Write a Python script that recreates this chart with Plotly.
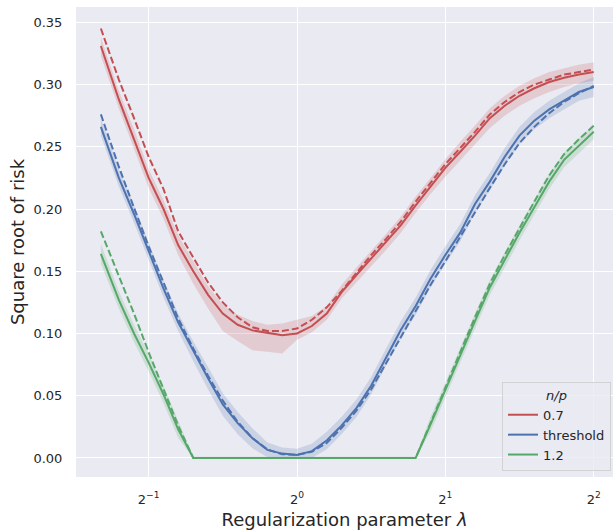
import plotly.graph_objects as go

# ---- data ----
lam = [0.400, 0.435, 0.467, 0.500, 0.536, 0.574, 0.616, 0.660, 0.707, 0.758,
       0.812, 0.871, 0.933, 1.000, 1.072, 1.149, 1.231, 1.320, 1.414, 1.516,
       1.625, 1.741, 1.866, 2.000, 2.144, 2.297, 2.462, 2.639, 2.828, 3.031,
       3.249, 3.482, 3.732, 4.000]

red_emp = [0.331, 0.288, 0.256, 0.225, 0.200, 0.171, 0.150, 0.131, 0.116, 0.107,
           0.1025, 0.1006, 0.0985, 0.100, 0.106, 0.116, 0.133, 0.147, 0.160, 0.173,
           0.187, 0.203, 0.218, 0.233, 0.246, 0.259, 0.273, 0.283, 0.291, 0.297,
           0.302, 0.3055, 0.308, 0.310]
red_th = [0.345, 0.304, 0.273, 0.242, 0.216, 0.182, 0.161, 0.141, 0.125, 0.113,
          0.105, 0.102, 0.102, 0.104, 0.111, 0.121, 0.134, 0.149, 0.163, 0.176,
          0.190, 0.206, 0.221, 0.236, 0.249, 0.262, 0.276, 0.286, 0.294, 0.300,
          0.304, 0.308, 0.310, 0.312]
red_lo = [0.323, 0.281, 0.249, 0.217, 0.192, 0.163, 0.140, 0.120, 0.102, 0.094,
          0.0865, 0.0853, 0.084, 0.095, 0.101, 0.111, 0.128, 0.141, 0.154, 0.167,
          0.181, 0.197, 0.212, 0.226, 0.239, 0.252, 0.265, 0.275, 0.283, 0.289,
          0.294, 0.298, 0.301, 0.303]
red_hi = [0.338, 0.295, 0.264, 0.232, 0.207, 0.179, 0.158, 0.138, 0.123, 0.115,
          0.110, 0.107, 0.108, 0.111, 0.114, 0.122, 0.139, 0.153, 0.166, 0.180,
          0.194, 0.210, 0.225, 0.240, 0.254, 0.267, 0.281, 0.291, 0.299, 0.305,
          0.310, 0.313, 0.316, 0.318]

blue_emp = [0.266, 0.225, 0.196, 0.167, 0.136, 0.109, 0.0856, 0.064, 0.043, 0.028,
            0.0158, 0.0065, 0.0035, 0.0024, 0.0055, 0.014, 0.026, 0.040, 0.058, 0.081,
            0.103, 0.122, 0.144, 0.163, 0.181, 0.204, 0.222, 0.242, 0.259, 0.271,
            0.280, 0.287, 0.294, 0.298]
blue_th = [0.276, 0.234, 0.201, 0.170, 0.141, 0.112, 0.088, 0.066, 0.046, 0.029,
           0.016, 0.0068, 0.003, 0.0025, 0.005, 0.012, 0.024, 0.038, 0.055, 0.076,
           0.098, 0.118, 0.139, 0.158, 0.178, 0.198, 0.217, 0.236, 0.253, 0.266,
           0.277, 0.286, 0.293, 0.299]
blue_err = [0.007, 0.007, 0.007, 0.007, 0.007, 0.007, 0.008, 0.009, 0.009, 0.009,
            0.008, 0.006, 0.005, 0.005, 0.006, 0.007, 0.007, 0.007, 0.007, 0.007,
            0.007, 0.007, 0.007, 0.007, 0.007, 0.007, 0.007, 0.007, 0.007, 0.007,
            0.007, 0.007, 0.007, 0.008]

green_emp = [0.164, 0.127, 0.100, 0.0766, 0.051, 0.023,
             0, 0, 0, 0, 0, 0, 0, 0, 0, 0, 0, 0, 0, 0, 0, 0,
             0.027, 0.055, 0.082, 0.110, 0.137, 0.159, 0.181, 0.2015, 0.222, 0.2395,
             0.251, 0.262]
green_th = [0.182, 0.147, 0.116, 0.085, 0.056, 0.026,
            0, 0, 0, 0, 0, 0, 0, 0, 0, 0, 0, 0, 0, 0, 0, 0,
            0.028, 0.057, 0.085, 0.113, 0.140, 0.163, 0.185, 0.206, 0.227, 0.244,
            0.256, 0.267]
green_err = [0.008, 0.007, 0.007, 0.007, 0.007, 0.007,
             0.001, 0.001, 0.001, 0.001, 0.001, 0.001, 0.001, 0.001, 0.001, 0.001,
             0.001, 0.001, 0.001, 0.001, 0.001, 0.001,
             0.006, 0.006, 0.006, 0.006, 0.006, 0.006, 0.006, 0.006, 0.006, 0.006,
             0.006, 0.006]

labels = ["0.7", "threshold", "1.2"]
x_ticks = [0.5, 1, 2, 4]
x_ticktext = ["2<sup>\u22121</sup>", "2<sup>0</sup>", "2<sup>1</sup>", "2<sup>2</sup>"]
y_ticks = [0.0, 0.05, 0.10, 0.15, 0.20, 0.25, 0.30, 0.35]

# ---- style ----
colors = ["#C44E52", "#4C72B0", "#55A868"]
fills = ["rgba(196,78,82,0.2)", "rgba(76,114,176,0.2)", "rgba(85,168,104,0.2)"]
FONT = "DejaVu Sans"
TXT = "#262626"

blue_lo = [max(0.0, m - e) for m, e in zip(blue_emp, blue_err)]
blue_hi = [m + e for m, e in zip(blue_emp, blue_err)]
green_lo = [max(0.0, m - e) for m, e in zip(green_emp, green_err)]
green_hi = [m + e for m, e in zip(green_emp, green_err)]

series = [
    (red_emp, red_th, red_lo, red_hi),
    (blue_emp, blue_th, blue_lo, blue_hi),
    (green_emp, green_th, green_lo, green_hi),
]

fig = go.Figure()

# bands
for i, (emp, th, lo, hi) in enumerate(series):
    fig.add_trace(go.Scatter(
        x=lam + lam[::-1], y=hi + lo[::-1], fill="toself", fillcolor=fills[i],
        line=dict(width=0), mode="lines", showlegend=False, hoverinfo="skip"))

# lines
for i, (emp, th, lo, hi) in enumerate(series):
    fig.add_trace(go.Scatter(
        x=lam, y=emp, mode="lines", name=labels[i],
        line=dict(color=colors[i], width=2)))
    fig.add_trace(go.Scatter(
        x=lam, y=th, mode="lines", showlegend=False,
        line=dict(color=colors[i], width=2, dash="7px,3px")))

L2 = 0.30103
fig.update_layout(
    width=613, height=530,
    margin=dict(l=76, r=0, t=7, b=53),
    paper_bgcolor="white", plot_bgcolor="#EAEAF2",
    font=dict(family=FONT, color=TXT, size=13),
    legend=dict(
        x=0.9963, xanchor="right", y=0.013, yanchor="bottom",
        bgcolor="rgba(234,234,242,0.8)", bordercolor="rgba(204,204,204,0.8)",
        borderwidth=1, font=dict(size=13, family=FONT, color=TXT),
        title=dict(text="<i>n/p</i>", side="top center",
                   font=dict(size=13, family=FONT, color=TXT)),
        tracegroupgap=0, itemwidth=30,
    ),
    xaxis=dict(
        type="log", range=[-1.4896 * L2, 2.130 * L2],
        tickvals=x_ticks, ticktext=x_ticktext,
        showgrid=True, gridcolor="white", gridwidth=1.2,
        zeroline=False, showline=False,
        ticks="outside", ticklen=10, tickcolor="rgba(0,0,0,0)",
        tickfont=dict(size=13, family=FONT, color=TXT),
        title=dict(text="Regularization parameter <i>\u03bb</i>",
                   font=dict(size=18, family=FONT, color=TXT), standoff=8),
        automargin=False,
    ),
    yaxis=dict(
        range=[-0.0153, 0.3623],
        tickvals=y_ticks, tickformat=".2f",
        showgrid=True, gridcolor="white", gridwidth=1.2,
        zeroline=False, showline=False,
        ticks="outside", ticklen=10, tickcolor="rgba(0,0,0,0)",
        tickfont=dict(size=13, family=FONT, color=TXT),
        title=dict(text="Square root of risk",
                   font=dict(size=18, family=FONT, color=TXT), standoff=4),
        automargin=False,
    ),
)

fig.write_html("out.html",
               config={"displayModeBar": False},
               post_script="document.body.style.margin='0';document.body.style.padding='0';")
